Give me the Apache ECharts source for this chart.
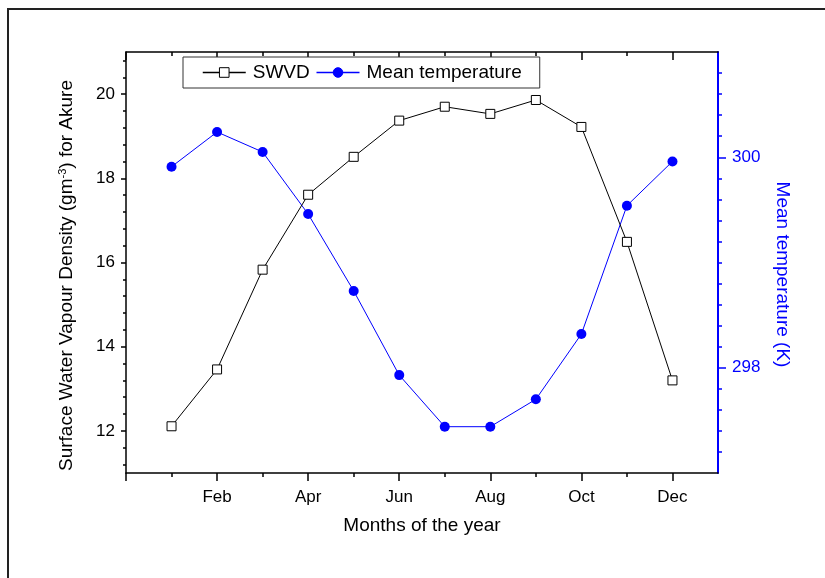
<!DOCTYPE html>
<html><head><meta charset="utf-8">
<script src="https://cdn.jsdelivr.net/npm/echarts@6/dist/echarts.min.js"></script>
<style>html,body{margin:0;padding:0;background:#fff}#c{width:825px;height:578px}</style>
</head><body><div id="c"></div>
<script>
// ---- data ----
const monthNames = ['Jan','Feb','Mar','Apr','May','Jun','Jul','Aug','Sep','Oct','Nov','Dec'];
const monthNumbers = [1,2,3,4,5,6,7,8,9,10,11,12];
const swvd = [12.11,13.46,15.83,17.61,18.51,19.37,19.70,19.53,19.86,19.22,16.49,13.20];
const meanTemp = [299.91,300.24,300.05,299.46,298.73,297.93,297.44,297.44,297.70,298.32,299.54,299.96];
const xMajorTicks = [0,2,4,6,8,10,12];
const xMinorTicks = [1,3,5,7,9,11];
const xLabelTicks = [2,4,6,8,10,12];
const leftMajorTicks = [12,14,16,18,20];
const rightMajorTicks = [298,300];

function stepTicks(from, to, step, exclude) {
  const out = [];
  const n = Math.round((to - from) / step);
  for (let i = 0; i <= n; i++) {
    const v = Math.round((from + i * step) * 1000) / 1000;
    if (exclude.indexOf(v) < 0) out.push(v);
  }
  return out;
}
const leftMinorTicks = stepTicks(11.2, 20.8, 0.4, leftMajorTicks);
const rightMinorTicks = stepTicks(297.2, 300.8, 0.2, rightMajorTicks);

const FONT = 'Liberation Sans, Arial, sans-serif';
const BLACK = '#000000';
const BLUE = '#0000ff';

function xAx(pos, ticks, len, inside, showLine, labels) {
  return {
    type: 'value', min: 0, max: 13, position: pos,
    axisLine: { show: showLine, onZero: false, lineStyle: { color: BLACK, width: 1.5 } },
    axisTick: { show: true, customValues: ticks, length: len, inside: inside, lineStyle: { color: BLACK, width: 1.5 } },
    axisLabel: labels ? {
      show: true, customValues: xLabelTicks, margin: 16,
      formatter: v => monthNames[Math.round(v) - 1] || '',
      color: BLACK, fontSize: 17, fontFamily: FONT
    } : { show: false },
    splitLine: { show: false }
  };
}

const option = {
  animation: false,
  backgroundColor: '#ffffff',
  graphic: [{
    type: 'rect', z: -1, silent: true,
    shape: { x: 8, y: 9, width: 1000, height: 1000 },
    style: { fill: 'none', stroke: '#222', lineWidth: 2 }
  }],
  grid: { left: 126, top: 52, width: 592, height: 421, containLabel: false },
  legend: {
    left: 183, top: 57,
    padding: [6, 18, 6, 19],
    itemGap: 6, itemWidth: 43, itemHeight: 12,
    borderColor: '#333', borderWidth: 1, borderRadius: 0,
    backgroundColor: '#fff',
    lineStyle: { width: 1.5 },
    itemStyle: { borderWidth: 1 },
    textStyle: { fontSize: 19, color: BLACK, fontFamily: FONT, padding: [0, 0, 0, 2] },
    data: ['SWVD', 'Mean temperature']
  },
  xAxis: [
    Object.assign(xAx('bottom', xMajorTicks, 8, false, true, true), {
      name: 'Months of the year', nameLocation: 'middle', nameGap: 43,
      nameTextStyle: { fontSize: 19, color: BLACK, fontFamily: FONT }
    }),
    xAx('bottom', xMinorTicks, 4, false, false, false),
    xAx('top', xMajorTicks, 8, true, true, false),
    xAx('top', xMinorTicks, 4, true, false, false)
  ],
  yAxis: [
    {
      type: 'value', min: 11, max: 21, position: 'left',
      axisLine: { show: true, onZero: false, lineStyle: { color: BLACK, width: 1.5 } },
      axisTick: { show: true, customValues: leftMajorTicks, length: 5, lineStyle: { color: BLACK, width: 1.5 } },
      axisLabel: { customValues: leftMajorTicks, margin: 11, color: BLACK, fontSize: 17, fontFamily: FONT },
      splitLine: { show: false },
      name: 'Surface Water Vapour Density (gm{sup|-3}) for Akure',
      nameLocation: 'middle', nameGap: 50, nameRotate: 90,
      nameTextStyle: {
        fontSize: 19, color: BLACK, fontFamily: FONT, padding: [0, 26, 0, 0],
        rich: { sup: { fontSize: 11, verticalAlign: 'top', padding: [0, 0, 8, 0], fontFamily: FONT, color: BLACK } }
      }
    },
    {
      type: 'value', min: 11, max: 21, position: 'left',
      axisLine: { show: false, onZero: false },
      axisTick: { show: true, customValues: leftMinorTicks, length: 3, lineStyle: { color: BLACK, width: 1.5 } },
      axisLabel: { show: false }, splitLine: { show: false }
    },
    {
      type: 'value', min: 297, max: 301, position: 'right',
      axisLine: { show: true, onZero: false, lineStyle: { color: BLUE, width: 2 } },
      axisTick: { show: true, customValues: rightMajorTicks, length: 8, lineStyle: { color: BLUE, width: 1.5 } },
      axisLabel: { customValues: rightMajorTicks, margin: 14, color: BLUE, fontSize: 17, fontFamily: FONT },
      splitLine: { show: false },
      name: 'Mean temperature (K)',
      nameLocation: 'middle', nameGap: 55, nameRotate: -90,
      nameTextStyle: { fontSize: 19, color: BLUE, fontFamily: FONT, padding: [0, 0, 0, 24] }
    },
    {
      type: 'value', min: 297, max: 301, position: 'right',
      axisLine: { show: false, onZero: false },
      axisTick: { show: true, customValues: rightMinorTicks, length: 4, lineStyle: { color: BLUE, width: 1.5 } },
      axisLabel: { show: false }, splitLine: { show: false }
    }
  ],
  series: [
    {
      name: 'SWVD', type: 'line', xAxisIndex: 0, yAxisIndex: 0,
      data: monthNumbers.map((m, i) => [m, swvd[i]]),
      symbol: 'rect', symbolSize: 9,
      lineStyle: { color: BLACK, width: 1 },
      itemStyle: { color: '#ffffff', borderColor: BLACK, borderWidth: 1 },
      z: 3
    },
    {
      name: 'Mean temperature', type: 'line', xAxisIndex: 0, yAxisIndex: 2,
      data: monthNumbers.map((m, i) => [m, meanTemp[i]]),
      symbol: 'circle', symbolSize: 10,
      lineStyle: { color: BLUE, width: 1 },
      itemStyle: { color: BLUE, borderColor: BLUE, borderWidth: 0 },
      z: 2
    }
  ]
};
const chart = echarts.init(document.getElementById('c'), null, { renderer: 'canvas' });
chart.setOption(option);
</script></body></html>
